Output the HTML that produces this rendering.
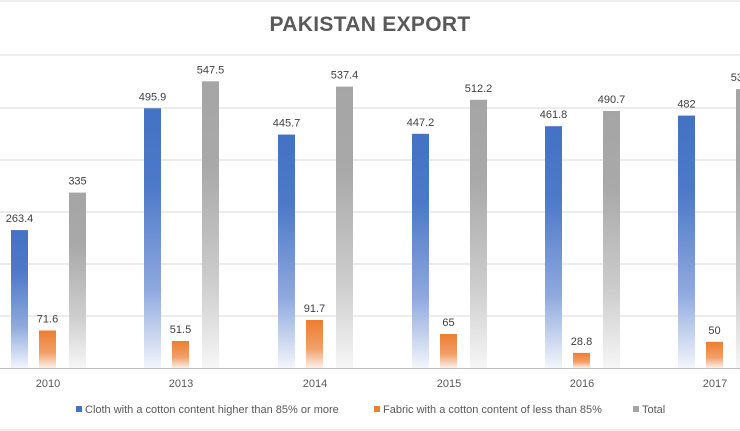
<!DOCTYPE html>
<html><head><meta charset="utf-8"><style>
body{margin:0;background:#fff;}
svg{display:block;font-family:"Liberation Sans",sans-serif;}
</style></head><body>
<svg width="740" height="431" viewBox="0 0 740 431" xmlns="http://www.w3.org/2000/svg">
<defs>
<linearGradient id="gb" x1="0" y1="0" x2="0" y2="1"><stop offset="0" stop-color="#4472c4"/><stop offset="0.3" stop-color="#4d79c8"/><stop offset="0.7" stop-color="#8fa9de"/><stop offset="1" stop-color="#f2f5fb"/></linearGradient>
<linearGradient id="go" x1="0" y1="0" x2="0" y2="1"><stop offset="0" stop-color="#ed7d31"/><stop offset="0.6" stop-color="#f1a06a"/><stop offset="1" stop-color="#fdf0e8"/></linearGradient>
<linearGradient id="gg" x1="0" y1="0" x2="0" y2="1"><stop offset="0" stop-color="#a5a5a5"/><stop offset="0.3" stop-color="#a9a9a9"/><stop offset="0.7" stop-color="#cdcdcd"/><stop offset="1" stop-color="#f6f6f6"/></linearGradient>
</defs>
<line x1="0" y1="1" x2="740" y2="1" stroke="#d9d9d9"/>
<line x1="0" y1="430" x2="740" y2="430" stroke="#d9d9d9"/>
<text x="370" y="31" text-anchor="middle" font-size="21" font-weight="bold" fill="#595959" letter-spacing="0.3">PAKISTAN EXPORT</text>
<g stroke="#d9d9d9" stroke-width="1">
<line x1="0" y1="55" x2="740" y2="55"/><line x1="0" y1="108" x2="740" y2="108"/><line x1="0" y1="160" x2="740" y2="160"/><line x1="0" y1="212" x2="740" y2="212"/><line x1="0" y1="264" x2="740" y2="264"/><line x1="0" y1="316" x2="740" y2="316"/>
</g>
<line x1="0" y1="368.5" x2="740" y2="368.5" stroke="#bfbfbf"/>
<g>
<rect x="11" y="230.1" width="17" height="137.9" fill="url(#gb)"/>
<rect x="39" y="330.5" width="17" height="37.5" fill="url(#go)"/>
<rect x="69" y="192.6" width="17" height="175.4" fill="url(#gg)"/>
<rect x="144" y="108.3" width="17" height="259.7" fill="url(#gb)"/>
<rect x="172" y="341" width="17" height="27" fill="url(#go)"/>
<rect x="202" y="81.3" width="17" height="286.7" fill="url(#gg)"/>
<rect x="278" y="134.6" width="17" height="233.4" fill="url(#gb)"/>
<rect x="306" y="320" width="17" height="48" fill="url(#go)"/>
<rect x="336" y="86.6" width="17" height="281.4" fill="url(#gg)"/>
<rect x="412" y="133.8" width="17" height="234.2" fill="url(#gb)"/>
<rect x="440" y="334" width="17" height="34" fill="url(#go)"/>
<rect x="470" y="99.8" width="17" height="268.2" fill="url(#gg)"/>
<rect x="545" y="126.2" width="17" height="241.8" fill="url(#gb)"/>
<rect x="573" y="352.9" width="17" height="15.1" fill="url(#go)"/>
<rect x="603" y="111" width="17" height="257" fill="url(#gg)"/>
<rect x="678" y="115.6" width="17" height="252.4" fill="url(#gb)"/>
<rect x="706" y="341.8" width="17" height="26.2" fill="url(#go)"/>
<rect x="736" y="89.1" width="17" height="278.9" fill="url(#gg)"/>
</g>
<g font-size="11" fill="#404040" text-anchor="middle">
<text x="19.5" y="222">263.4</text><text x="47.5" y="322.5">71.6</text><text x="77.5" y="184.6">335</text>
<text x="152.5" y="100.3">495.9</text><text x="180.5" y="333">51.5</text><text x="210.5" y="73.3">547.5</text>
<text x="286.5" y="126.6">445.7</text><text x="314.5" y="312">91.7</text><text x="344.5" y="78.6">537.4</text>
<text x="420.5" y="125.8">447.2</text><text x="448.5" y="326">65</text><text x="478.5" y="91.8">512.2</text>
<text x="553.5" y="118.2">461.8</text><text x="581.5" y="344.9">28.8</text><text x="611.5" y="103">490.7</text>
<text x="686.5" y="107.6">482</text><text x="714.5" y="333.8">50</text><text x="744.5" y="81.1">532.6</text>
</g>
<g font-size="11" fill="#595959" text-anchor="middle">
<text x="48" y="387">2010</text><text x="181" y="387">2013</text><text x="315" y="387">2014</text><text x="449" y="387">2015</text><text x="582" y="387">2016</text><text x="715" y="387">2017</text>
</g>
<g font-size="11" fill="#595959">
<rect x="76" y="406" width="6" height="6" fill="#4472c4"/><text x="85" y="413">Cloth with a cotton content higher than 85% or more</text>
<rect x="374" y="406" width="6" height="6" fill="#ed7d31"/><text x="383" y="413">Fabric with a cotton content of less than 85%</text>
<rect x="633" y="406" width="6" height="6" fill="#a5a5a5"/><text x="642" y="413">Total</text>
</g>
</svg>
</body></html>
